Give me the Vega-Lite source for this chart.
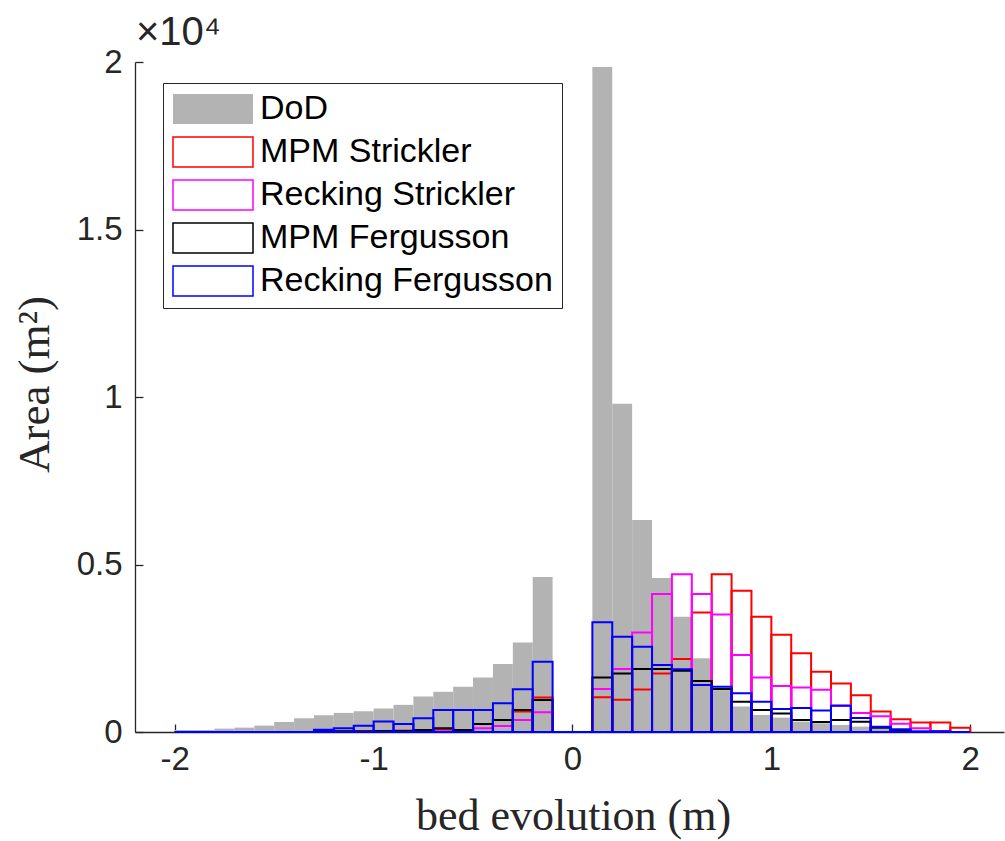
{
"$schema": "https://vega.github.io/schema/vega-lite/v6.json",
"width": 869, "height": 670,
"autosize": {"type": "none"},
"padding": {"left": 135, "top": 62, "right": 1, "bottom": 109},
"background": "white",
"title": {"text": "×10⁴", "anchor": "start", "frame": "group", "font": "Liberation Sans", "fontSize": 40, "fontWeight": "normal", "color": "#262626", "offset": 0, "baseline": "alphabetic", "dx": 1, "dy": 39},
"data": {"values": [
{"s":"DoD","a":-2,"b":-1.9,"v":60},{"s":"DoD","a":-1.9,"b":-1.8,"v":60},{"s":"DoD","a":-1.8,"b":-1.7,"v":100},{"s":"DoD","a":-1.7,"b":-1.6,"v":130},{"s":"DoD","a":-1.6,"b":-1.5,"v":190},{"s":"DoD","a":-1.5,"b":-1.4,"v":300},{"s":"DoD","a":-1.4,"b":-1.3,"v":410},{"s":"DoD","a":-1.3,"b":-1.2,"v":500},{"s":"DoD","a":-1.2,"b":-1.1,"v":570},{"s":"DoD","a":-1.1,"b":-1,"v":620},{"s":"DoD","a":-1,"b":-0.9,"v":700},{"s":"DoD","a":-0.9,"b":-0.8,"v":810},{"s":"DoD","a":-0.8,"b":-0.7,"v":1060},{"s":"DoD","a":-0.7,"b":-0.6,"v":1200},{"s":"DoD","a":-0.6,"b":-0.5,"v":1350},{"s":"DoD","a":-0.5,"b":-0.4,"v":1630},{"s":"DoD","a":-0.4,"b":-0.3,"v":2030},{"s":"DoD","a":-0.3,"b":-0.2,"v":2670},{"s":"DoD","a":-0.2,"b":-0.1,"v":4630},{"s":"DoD","a":-0.1,"b":0,"v":0},
{"s":"DoD","a":0,"b":0.1,"v":0},{"s":"DoD","a":0.1,"b":0.2,"v":19850},{"s":"DoD","a":0.2,"b":0.3,"v":9800},{"s":"DoD","a":0.3,"b":0.4,"v":6330},{"s":"DoD","a":0.4,"b":0.5,"v":4600},{"s":"DoD","a":0.5,"b":0.6,"v":3440},{"s":"DoD","a":0.6,"b":0.7,"v":2200},{"s":"DoD","a":0.7,"b":0.8,"v":1250},{"s":"DoD","a":0.8,"b":0.9,"v":760},{"s":"DoD","a":0.9,"b":1,"v":510},{"s":"DoD","a":1,"b":1.1,"v":430},{"s":"DoD","a":1.1,"b":1.2,"v":310},{"s":"DoD","a":1.2,"b":1.3,"v":260},{"s":"DoD","a":1.3,"b":1.4,"v":210},{"s":"DoD","a":1.4,"b":1.5,"v":160},{"s":"DoD","a":1.5,"b":1.6,"v":110},{"s":"DoD","a":1.6,"b":1.7,"v":60},{"s":"DoD","a":1.7,"b":1.8,"v":40},{"s":"DoD","a":1.8,"b":1.9,"v":30},{"s":"DoD","a":1.9,"b":2,"v":20},
{"s":"MPM Strickler","a":-2,"b":-1.9,"v":0},{"s":"MPM Strickler","a":-1.9,"b":-1.8,"v":0},{"s":"MPM Strickler","a":-1.8,"b":-1.7,"v":0},{"s":"MPM Strickler","a":-1.7,"b":-1.6,"v":0},{"s":"MPM Strickler","a":-1.6,"b":-1.5,"v":0},{"s":"MPM Strickler","a":-1.5,"b":-1.4,"v":0},{"s":"MPM Strickler","a":-1.4,"b":-1.3,"v":0},{"s":"MPM Strickler","a":-1.3,"b":-1.2,"v":0},{"s":"MPM Strickler","a":-1.2,"b":-1.1,"v":0},{"s":"MPM Strickler","a":-1.1,"b":-1,"v":20},{"s":"MPM Strickler","a":-1,"b":-0.9,"v":30},{"s":"MPM Strickler","a":-0.9,"b":-0.8,"v":40},{"s":"MPM Strickler","a":-0.8,"b":-0.7,"v":30},{"s":"MPM Strickler","a":-0.7,"b":-0.6,"v":80},{"s":"MPM Strickler","a":-0.6,"b":-0.5,"v":60},{"s":"MPM Strickler","a":-0.5,"b":-0.4,"v":240},{"s":"MPM Strickler","a":-0.4,"b":-0.3,"v":360},{"s":"MPM Strickler","a":-0.3,"b":-0.2,"v":610},{"s":"MPM Strickler","a":-0.2,"b":-0.1,"v":1030},{"s":"MPM Strickler","a":-0.1,"b":0,"v":0},
{"s":"MPM Strickler","a":0,"b":0.1,"v":0},{"s":"MPM Strickler","a":0.1,"b":0.2,"v":1040},{"s":"MPM Strickler","a":0.2,"b":0.3,"v":960},{"s":"MPM Strickler","a":0.3,"b":0.4,"v":1270},{"s":"MPM Strickler","a":0.4,"b":0.5,"v":1750},{"s":"MPM Strickler","a":0.5,"b":0.6,"v":2180},{"s":"MPM Strickler","a":0.6,"b":0.7,"v":3570},{"s":"MPM Strickler","a":0.7,"b":0.8,"v":4710},{"s":"MPM Strickler","a":0.8,"b":0.9,"v":4220},{"s":"MPM Strickler","a":0.9,"b":1,"v":3440},{"s":"MPM Strickler","a":1,"b":1.1,"v":2900},{"s":"MPM Strickler","a":1.1,"b":1.2,"v":2350},{"s":"MPM Strickler","a":1.2,"b":1.3,"v":1800},{"s":"MPM Strickler","a":1.3,"b":1.4,"v":1450},{"s":"MPM Strickler","a":1.4,"b":1.5,"v":1100},{"s":"MPM Strickler","a":1.5,"b":1.6,"v":610},{"s":"MPM Strickler","a":1.6,"b":1.7,"v":380},{"s":"MPM Strickler","a":1.7,"b":1.8,"v":285},{"s":"MPM Strickler","a":1.8,"b":1.9,"v":285},{"s":"MPM Strickler","a":1.9,"b":2,"v":130},
{"s":"Recking Strickler","a":-2,"b":-1.9,"v":0},{"s":"Recking Strickler","a":-1.9,"b":-1.8,"v":0},{"s":"Recking Strickler","a":-1.8,"b":-1.7,"v":0},{"s":"Recking Strickler","a":-1.7,"b":-1.6,"v":0},{"s":"Recking Strickler","a":-1.6,"b":-1.5,"v":0},{"s":"Recking Strickler","a":-1.5,"b":-1.4,"v":0},{"s":"Recking Strickler","a":-1.4,"b":-1.3,"v":0},{"s":"Recking Strickler","a":-1.3,"b":-1.2,"v":0},{"s":"Recking Strickler","a":-1.2,"b":-1.1,"v":0},{"s":"Recking Strickler","a":-1.1,"b":-1,"v":0},{"s":"Recking Strickler","a":-1,"b":-0.9,"v":10},{"s":"Recking Strickler","a":-0.9,"b":-0.8,"v":10},{"s":"Recking Strickler","a":-0.8,"b":-0.7,"v":20},{"s":"Recking Strickler","a":-0.7,"b":-0.6,"v":20},{"s":"Recking Strickler","a":-0.6,"b":-0.5,"v":60},{"s":"Recking Strickler","a":-0.5,"b":-0.4,"v":110},{"s":"Recking Strickler","a":-0.4,"b":-0.3,"v":180},{"s":"Recking Strickler","a":-0.3,"b":-0.2,"v":360},{"s":"Recking Strickler","a":-0.2,"b":-0.1,"v":590},{"s":"Recking Strickler","a":-0.1,"b":0,"v":0},
{"s":"Recking Strickler","a":0,"b":0.1,"v":0},{"s":"Recking Strickler","a":0.1,"b":0.2,"v":1280},{"s":"Recking Strickler","a":0.2,"b":0.3,"v":1880},{"s":"Recking Strickler","a":0.3,"b":0.4,"v":2970},{"s":"Recking Strickler","a":0.4,"b":0.5,"v":4120},{"s":"Recking Strickler","a":0.5,"b":0.6,"v":4710},{"s":"Recking Strickler","a":0.6,"b":0.7,"v":4120},{"s":"Recking Strickler","a":0.7,"b":0.8,"v":3510},{"s":"Recking Strickler","a":0.8,"b":0.9,"v":2300},{"s":"Recking Strickler","a":0.9,"b":1,"v":1630},{"s":"Recking Strickler","a":1,"b":1.1,"v":1375},{"s":"Recking Strickler","a":1.1,"b":1.2,"v":1325},{"s":"Recking Strickler","a":1.2,"b":1.3,"v":1260},{"s":"Recking Strickler","a":1.3,"b":1.4,"v":790},{"s":"Recking Strickler","a":1.4,"b":1.5,"v":565},{"s":"Recking Strickler","a":1.5,"b":1.6,"v":470},{"s":"Recking Strickler","a":1.6,"b":1.7,"v":250},{"s":"Recking Strickler","a":1.7,"b":1.8,"v":110},{"s":"Recking Strickler","a":1.8,"b":1.9,"v":30},{"s":"Recking Strickler","a":1.9,"b":2,"v":0},
{"s":"MPM Fergusson","a":-2,"b":-1.9,"v":0},{"s":"MPM Fergusson","a":-1.9,"b":-1.8,"v":0},{"s":"MPM Fergusson","a":-1.8,"b":-1.7,"v":0},{"s":"MPM Fergusson","a":-1.7,"b":-1.6,"v":0},{"s":"MPM Fergusson","a":-1.6,"b":-1.5,"v":0},{"s":"MPM Fergusson","a":-1.5,"b":-1.4,"v":0},{"s":"MPM Fergusson","a":-1.4,"b":-1.3,"v":0},{"s":"MPM Fergusson","a":-1.3,"b":-1.2,"v":40},{"s":"MPM Fergusson","a":-1.2,"b":-1.1,"v":25},{"s":"MPM Fergusson","a":-1.1,"b":-1,"v":20},{"s":"MPM Fergusson","a":-1,"b":-0.9,"v":30},{"s":"MPM Fergusson","a":-0.9,"b":-0.8,"v":30},{"s":"MPM Fergusson","a":-0.8,"b":-0.7,"v":60},{"s":"MPM Fergusson","a":-0.7,"b":-0.6,"v":110},{"s":"MPM Fergusson","a":-0.6,"b":-0.5,"v":60},{"s":"MPM Fergusson","a":-0.5,"b":-0.4,"v":240},{"s":"MPM Fergusson","a":-0.4,"b":-0.3,"v":360},{"s":"MPM Fergusson","a":-0.3,"b":-0.2,"v":657},{"s":"MPM Fergusson","a":-0.2,"b":-0.1,"v":955},{"s":"MPM Fergusson","a":-0.1,"b":0,"v":0},
{"s":"MPM Fergusson","a":0,"b":0.1,"v":0},{"s":"MPM Fergusson","a":0.1,"b":0.2,"v":1630},{"s":"MPM Fergusson","a":0.2,"b":0.3,"v":1750},{"s":"MPM Fergusson","a":0.3,"b":0.4,"v":1880},{"s":"MPM Fergusson","a":0.4,"b":0.5,"v":1880},{"s":"MPM Fergusson","a":0.5,"b":0.6,"v":1830},{"s":"MPM Fergusson","a":0.6,"b":0.7,"v":1520},{"s":"MPM Fergusson","a":0.7,"b":0.8,"v":1280},{"s":"MPM Fergusson","a":0.8,"b":0.9,"v":905},{"s":"MPM Fergusson","a":0.9,"b":1,"v":657},{"s":"MPM Fergusson","a":1,"b":1.1,"v":550},{"s":"MPM Fergusson","a":1.1,"b":1.2,"v":358},{"s":"MPM Fergusson","a":1.2,"b":1.3,"v":300},{"s":"MPM Fergusson","a":1.3,"b":1.4,"v":358},{"s":"MPM Fergusson","a":1.4,"b":1.5,"v":308},{"s":"MPM Fergusson","a":1.5,"b":1.6,"v":130},{"s":"MPM Fergusson","a":1.6,"b":1.7,"v":30},{"s":"MPM Fergusson","a":1.7,"b":1.8,"v":0},{"s":"MPM Fergusson","a":1.8,"b":1.9,"v":0},{"s":"MPM Fergusson","a":1.9,"b":2,"v":0},
{"s":"Recking Fergusson","a":-2,"b":-1.9,"v":0},{"s":"Recking Fergusson","a":-1.9,"b":-1.8,"v":0},{"s":"Recking Fergusson","a":-1.8,"b":-1.7,"v":0},{"s":"Recking Fergusson","a":-1.7,"b":-1.6,"v":0},{"s":"Recking Fergusson","a":-1.6,"b":-1.5,"v":0},{"s":"Recking Fergusson","a":-1.5,"b":-1.4,"v":0},{"s":"Recking Fergusson","a":-1.4,"b":-1.3,"v":0},{"s":"Recking Fergusson","a":-1.3,"b":-1.2,"v":65},{"s":"Recking Fergusson","a":-1.2,"b":-1.1,"v":115},{"s":"Recking Fergusson","a":-1.1,"b":-1,"v":185},{"s":"Recking Fergusson","a":-1,"b":-0.9,"v":315},{"s":"Recking Fergusson","a":-0.9,"b":-0.8,"v":240},{"s":"Recking Fergusson","a":-0.8,"b":-0.7,"v":408},{"s":"Recking Fergusson","a":-0.7,"b":-0.6,"v":657},{"s":"Recking Fergusson","a":-0.6,"b":-0.5,"v":657},{"s":"Recking Fergusson","a":-0.5,"b":-0.4,"v":657},{"s":"Recking Fergusson","a":-0.4,"b":-0.3,"v":856},{"s":"Recking Fergusson","a":-0.3,"b":-0.2,"v":1274},{"s":"Recking Fergusson","a":-0.2,"b":-0.1,"v":2100},{"s":"Recking Fergusson","a":-0.1,"b":0,"v":0},
{"s":"Recking Fergusson","a":0,"b":0.1,"v":0},{"s":"Recking Fergusson","a":0.1,"b":0.2,"v":3274},{"s":"Recking Fergusson","a":0.2,"b":0.3,"v":2846},{"s":"Recking Fergusson","a":0.3,"b":0.4,"v":2547},{"s":"Recking Fergusson","a":0.4,"b":0.5,"v":2000},{"s":"Recking Fergusson","a":0.5,"b":0.6,"v":1871},{"s":"Recking Fergusson","a":0.6,"b":0.7,"v":1403},{"s":"Recking Fergusson","a":0.7,"b":0.8,"v":1353},{"s":"Recking Fergusson","a":0.8,"b":0.9,"v":1154},{"s":"Recking Fergusson","a":0.9,"b":1,"v":905},{"s":"Recking Fergusson","a":1,"b":1.1,"v":690},{"s":"Recking Fergusson","a":1.1,"b":1.2,"v":720},{"s":"Recking Fergusson","a":1.2,"b":1.3,"v":645},{"s":"Recking Fergusson","a":1.3,"b":1.4,"v":786},{"s":"Recking Fergusson","a":1.4,"b":1.5,"v":420},{"s":"Recking Fergusson","a":1.5,"b":1.6,"v":160},{"s":"Recking Fergusson","a":1.6,"b":1.7,"v":80},{"s":"Recking Fergusson","a":1.7,"b":1.8,"v":20},{"s":"Recking Fergusson","a":1.8,"b":1.9,"v":20},{"s":"Recking Fergusson","a":1.9,"b":2,"v":0}
]},
"mark": {"type": "rect", "strokeWidth": 2},
"encoding": {
"x": {"field": "a", "type": "quantitative", "scale": {"domain": [-2.2, 2.17], "nice": false, "zero": false},
 "axis": {"title": "bed evolution (m)", "values": [-2, -1, 0, 1, 2], "labelExpr": "(datum.value < 0 ? '-' : '') + abs(datum.value)", "tickSize": -8, "labelPadding": 19, "labelFlush": false, "labelFont": "Liberation Sans", "labelFontSize": 33, "labelColor": "#262626", "domainColor": "#262626", "tickColor": "#262626", "domainWidth": 1.3, "tickWidth": 1.3, "grid": false, "titleFont": "Liberation Serif", "titleFontSize": 44, "titleFontWeight": "normal", "titleColor": "#262626", "titleX": 438, "titleY": 97, "titleAlign": "center", "titleBaseline": "alphabetic"}},
"x2": {"field": "b"},
"y": {"field": "v", "type": "quantitative", "scale": {"domain": [0, 20000], "nice": false},
 "axis": {"title": "Area (m²)", "values": [0, 5000, 10000, 15000, 20000], "labelExpr": "'' + datum.value / 10000", "tickSize": -8, "labelPadding": 21, "labelFont": "Liberation Sans", "labelFontSize": 33, "labelColor": "#262626", "domainColor": "#262626", "tickColor": "#262626", "domainWidth": 1.3, "tickWidth": 1.3, "grid": false, "titleFont": "Liberation Serif", "titleFontSize": 45, "titleFontWeight": "normal", "titleColor": "#262626", "titleX": -101, "titleY": 322, "titleAngle": -90, "titleAlign": "center", "titleBaseline": "middle"}},
"y2": {"datum": 0},
"fill": {"field": "s", "type": "nominal", "sort": null,
 "scale": {"domain": ["DoD", "MPM Strickler", "Recking Strickler", "MPM Fergusson", "Recking Fergusson"], "range": ["#b3b3b3", "transparent", "transparent", "transparent", "transparent"]},
 "legend": {"title": null, "orient": "none", "legendX": 28, "legendY": 21, "symbolType": "M-2.667,-1H2.667V1H-2.667Z", "symbolSize": 900, "symbolStrokeWidth": 1.5, "symbolOffset": 24, "labelOffset": 30, "labelFont": "Liberation Sans", "labelFontSize": 34, "labelColor": "#000000", "labelLimit": 0, "rowPadding": 7, "padding": 9, "fillColor": "white", "strokeColor": "#262626"}},
"stroke": {"field": "s", "type": "nominal", "sort": null,
 "scale": {"domain": ["DoD", "MPM Strickler", "Recking Strickler", "MPM Fergusson", "Recking Fergusson"], "range": ["transparent", "#ff0000", "#ff00ff", "#000000", "#0000ff"]},
 "legend": {"title": null, "orient": "none", "legendX": 28, "legendY": 21, "symbolType": "M-2.667,-1H2.667V1H-2.667Z", "symbolSize": 900, "symbolStrokeWidth": 1.5, "symbolOffset": 24, "labelOffset": 30, "labelFont": "Liberation Sans", "labelFontSize": 34, "labelColor": "#000000", "labelLimit": 0, "rowPadding": 7, "padding": 9, "fillColor": "white", "strokeColor": "#262626"}}
},
"config": {"view": {"stroke": null}}
}
